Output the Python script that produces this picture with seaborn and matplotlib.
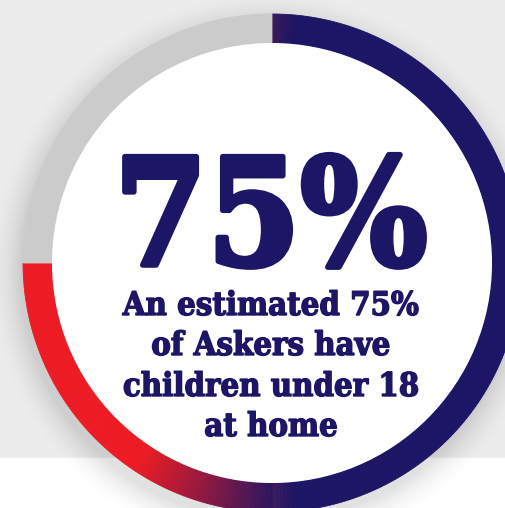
import numpy as np
import matplotlib
matplotlib.use("Agg")
import matplotlib.pyplot as plt
import matplotlib.patheffects as pe
import seaborn as sns
from matplotlib.colors import to_rgb

# ---- data ----
share_with_children = 75
share_other = 25
big_label = "75%"
caption_lines = ["An estimated 75%", "of Askers have", "children under 18", "at home"]

sns.set_theme(style="white")
plt.rcParams['font.family'] = ['DejaVu Serif', 'DejaVu Sans']

W, H = 506, 508
fig = plt.figure(figsize=(W / 100, H / 100), dpi=100, facecolor="#ececec")
ax = fig.add_axes([0, 0, 1, 1])
ax.set_facecolor("#ececec")
ax.set_xlim(0, W)
ax.set_ylim(0, H)
ax.axis("off")

# white lower band
ax.axhspan(0, H - 458, color="white", zorder=0)

cx, cy = 272, H - 263
R, ring_w = 249, 29

navy = np.array(to_rgb("#1d1565"))
red = np.array(to_rgb("#ed1c24"))
purple = np.array(to_rgb("#3d1a5e"))

# soft shadow
for i, a in enumerate(np.linspace(0.014, 0.003, 14)):
    circ = plt.Circle((cx - 3, cy - 9), R + 1 + i * 2.2, color="black", alpha=a, lw=0, zorder=1)
    ax.add_patch(circ)

# split the coloured share into small slices for the gradient
n = 300
pieces = [share_with_children / n] * n
colors = []
for k in range(n):
    f = (k + 0.5) / n * share_with_children / 100.0
    theta = np.deg2rad(90 - 360 * f)
    x = cx + (R - ring_w / 2) * np.cos(theta)
    if theta < np.deg2rad(-90):  # lower-left quadrant: navy -> red by x
        t = np.clip((x - 140) / (282 - 140), 0, 1)
        c = red * (1 - t) + navy * t
    else:
        t = np.clip((x - cx) / 22, 0, 1)
        c = purple * (1 - t) + navy * t
    colors.append(tuple(c))
values = pieces + [share_other]
colors = colors + ["#cbcbcb"]

wedges, _ = ax.pie(values, colors=colors, center=(cx, cy), radius=R, startangle=90,
                   counterclock=False, wedgeprops=dict(width=ring_w, linewidth=0.6),
                   frame=True)
for w, c in zip(wedges, colors):
    w.set_edgecolor(c)
    w.set_zorder(2)
ax.add_patch(plt.Circle((cx, cy), R - ring_w, color="white", lw=0, zorder=3))

ax.set_xlim(0, W)
ax.set_ylim(0, H)
ax.set_aspect("equal")
ax.axis("off")

txt_col = "#1d1565"
ax.text(271, H - 265, big_label, ha="center", va="baseline", fontsize=107,
        fontweight="bold", fontstretch="condensed", color=txt_col, zorder=5,
        path_effects=[pe.Stroke(linewidth=4, foreground=txt_col), pe.Normal()])

baselines = [315, 355, 396, 436]
for line, b in zip(caption_lines, baselines):
    ax.text(271, H - b, line, ha="center", va="baseline", fontsize=23.5,
            fontweight="bold", fontstretch="condensed", color=txt_col, zorder=5,
            path_effects=[pe.Stroke(linewidth=1.0, foreground=txt_col), pe.Normal()])

fig.savefig("out.png", dpi=100, facecolor=fig.get_facecolor())
